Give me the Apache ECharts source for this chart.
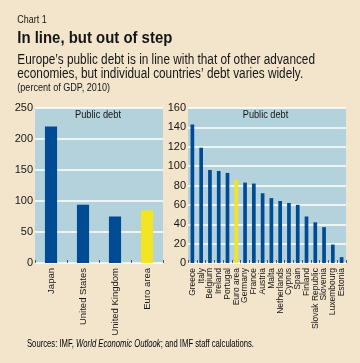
<!DOCTYPE html>
<html><head><meta charset="utf-8">
<script src="https://cdn.jsdelivr.net/npm/echarts@6/dist/echarts.min.js"></script>
<style>html,body{margin:0;padding:0;background:#F3E5CC}#c{width:360px;height:363px}</style>
</head><body><div id="c"></div>
<script>
const leftCats = ['Japan','United States','United Kingdom','Euro area'];
const leftVals = [220, 94, 75, 85];
const rightCats = ['Greece','Italy','Belgium','Ireland','Portugal','Euro area','Germany','France','Austria','Malta','Netherlands','Cyprus','Spain','Finland','Slovak Republic','Slovenia','Luxembourg','Estonia'];
const rightVals = [143, 119, 96, 95, 93, 86, 83, 82, 72, 67, 64, 62, 60, 48, 42, 37, 19, 6];
const leftTicks = [0, 50, 100, 150, 200, 250];
const rightTicks = [0, 20, 40, 60, 80, 100, 120, 140, 160];

const FAM = '"Liberation Sans", Arial, sans-serif';
const BLUE = '#004B93', YEL = '#F3E523', PLOT = '#B3D2DC', INK = '#161616';
const colorFor = c => c === 'Euro area' ? YEL : BLUE;

// measure text to emulate the condensed typeface by horizontal scaling
const mctx = document.createElement('canvas').getContext('2d');
function tw(s, font){ mctx.font = font; return mctx.measureText(s).width; }

function ctext(s, x, y, size, weight, target, align){
  const font = (weight||'normal') + ' ' + size + 'px ' + FAM;
  const sx = target / tw(s, font);
  return {type:'text', x:x, y:y, scaleX:sx, silent:true,
    style:{text:s, font:font, fill:INK, align:align||'left', verticalAlign:'middle'}};
}

const sub1 = 'Europe\u2019s public debt is in line with that of other advanced';
const sub2 = 'economies, but individual countries\u2019 debt varies widely.';
const subFont = 'normal 14px ' + FAM;
const subScale = 297.7 / tw(sub1, subFont);

const srcA = 'Sources: IMF, ', srcB = 'World Economic Outlook', srcC = '; and IMF staff calculations.';
const srcFont = 'normal 10.5px ' + FAM, srcFontI = 'italic normal 10.5px ' + FAM;
const srcScale = 227 / (tw(srcA, srcFont) + tw(srcB, srcFontI) + tw(srcC, srcFont));

const chart = echarts.init(document.getElementById('c'), null, {renderer:'canvas'});
function xAxis(idx, cats, fs){
  return {type:'category', gridIndex:idx, data:cats,
    axisLine:{show:false},
    axisTick:{show:true, inside:true, length:3, lineStyle:{color:'#5a5a5a', width:1}},
    axisLabel:{rotate:90, interval:0, fontFamily:FAM, fontSize:fs, color:INK, margin:5}};
}
function yAxis(idx, ticks){
  return {type:'value', gridIndex:idx, min:ticks[0], max:ticks[ticks.length-1], interval:ticks[1]-ticks[0],
    axisLine:{show:false}, axisTick:{show:false},
    axisLabel:{fontFamily:FAM, fontSize:11, color:INK, margin:2},
    splitLine:{show:true, lineStyle:{color:'#ffffff', width:1.5}}};
}
chart.setOption({
  backgroundColor:'#F3E5CC',
  animation:false,
  graphic:[
    ctext('Chart 1', 17.3, 19.7, 10.5, 'normal', 29.4),
    ctext('In line, but out of step', 17.3, 38.5, 17, 'bold', 155),
    {type:'text', x:17.3, y:60, scaleX:subScale, silent:true, style:{text:sub1, font:subFont, fill:INK, verticalAlign:'middle'}},
    {type:'text', x:17.3, y:74.5, scaleX:subScale, silent:true, style:{text:sub2, font:subFont, fill:INK, verticalAlign:'middle'}},
    ctext('(percent of GDP, 2010)', 17.3, 88.5, 10.5, 'normal', 92.7),
    ctext('Public debt', 98, 115, 11.5, 'normal', 46, 'center'),
    ctext('Public debt', 265.5, 115, 11.5, 'normal', 45.5, 'center'),
    {type:'text', x:27, y:344, scaleX:srcScale, silent:true,
      style:{text:'{n|' + srcA + '}{i|' + srcB + '}{n|' + srcC + '}', verticalAlign:'middle',
        rich:{n:{fontFamily:FAM, fontSize:10.5, color:INK}, i:{fontFamily:FAM, fontSize:10.5, fontStyle:'italic', color:INK}}}}
  ],
  grid:[
    {left:35, top:108, width:128, height:155, show:true, backgroundColor:PLOT, borderWidth:0},
    {left:188, top:108, width:158, height:155, show:true, backgroundColor:PLOT, borderWidth:0}
  ],
  xAxis:[xAxis(0, leftCats, 9.5), xAxis(1, rightCats, 8.5)],
  yAxis:[yAxis(0, leftTicks), yAxis(1, rightTicks)],
  series:[
    {type:'bar', xAxisIndex:0, yAxisIndex:0, barWidth:'38%',
      data:leftVals.map((v,i)=>({value:v, itemStyle:{color:colorFor(leftCats[i])}}))},
    {type:'bar', xAxisIndex:1, yAxisIndex:1, barWidth:'42%',
      data:rightVals.map((v,i)=>({value:v, itemStyle:{color:colorFor(rightCats[i])}}))}
  ]
});
</script></body></html>
